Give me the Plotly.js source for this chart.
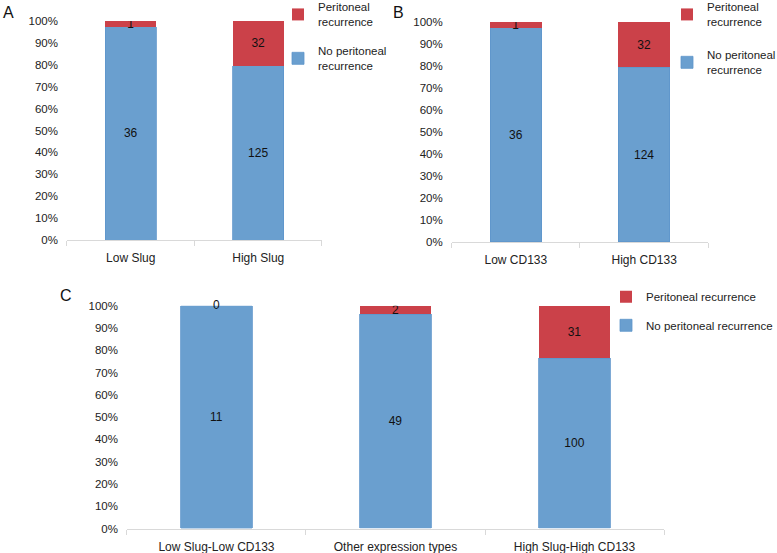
<!DOCTYPE html>
<html>
<head>
<meta charset="utf-8">
<script src="https://cdn.plot.ly/plotly-3.0.1.min.js"></script>
<style>html,body{margin:0;padding:0;background:#fff;}#chart{width:777px;height:553px;}</style>
</head>
<body>
<div id="chart"></div>
<script>
var catsA = ['Low Slug', 'High Slug'];
var noRecA = [36, 125];
var recA = [1, 32];

var catsB = ['Low CD133', 'High CD133'];
var noRecB = [36, 124];
var recB = [1, 32];

var catsC = ['Low Slug-Low CD133', 'Other expression types', 'High Slug-High CD133'];
var noRecC = [11, 49, 100];
var recC = [0, 2, 31];

var nameRec = 'Peritoneal recurrence';
var nameNoRec = 'No peritoneal recurrence';

var BLUE = '#6A9FCF', RED = '#CB4149';
var FONT = 'Liberation Sans, Arial, Helvetica, sans-serif';

function bar(x, y, color, name, xa, ya, leg, rank) {
  return {
    type: 'bar', x: x, y: y, name: name, xaxis: xa, yaxis: ya, legend: leg,
    legendrank: rank, legendgroup: leg + '_' + rank,
    marker: {color: color, line: {color: color === BLUE ? '#5E95CA' : RED, width: color === BLUE ? 0.8 : 0}},
    text: y.map(String), textposition: 'inside', insidetextanchor: 'middle',
    constraintext: 'none', textangle: 0,
    textfont: {family: FONT, size: 12, color: '#111'},
    hoverinfo: 'skip'
  };
}

// labels for zero-height segments (bar text is not drawn for them)
function zeroLabels(cats, noRec, rec, xa, ya) {
  var xs = [], ys = [], ts = [];
  for (var i = 0; i < cats.length; i++) {
    if (rec[i] === 0) {
      var tot = noRec[i] + rec[i];
      xs.push(cats[i]); ys.push((noRec[i] + rec[i] / 2) / tot); ts.push(String(rec[i]));
    }
  }
  return {
    type: 'scatter', mode: 'text', x: xs, y: ys, text: ts, textposition: 'middle center',
    xaxis: xa, yaxis: ya, showlegend: false, hoverinfo: 'skip',
    textfont: {family: FONT, size: 12, color: '#111'}, cliponaxis: false
  };
}

var data = [
  bar(catsA, noRecA, BLUE, 'No peritoneal<br>recurrence', 'x', 'y', 'legend', 2),
  bar(catsA, recA, RED, 'Peritoneal<br>recurrence', 'x', 'y', 'legend', 1),
  bar(catsB, noRecB, BLUE, 'No peritoneal<br>recurrence', 'x2', 'y2', 'legend2', 2),
  bar(catsB, recB, RED, 'Peritoneal<br>recurrence', 'x2', 'y2', 'legend2', 1),
  bar(catsC, noRecC, BLUE, nameNoRec, 'x3', 'y3', 'legend3', 2),
  bar(catsC, recC, RED, nameRec, 'x3', 'y3', 'legend3', 1),
  zeroLabels(catsC, noRecC, recC, 'x3', 'y3')
];

function xax(dom, anchor) {
  return {
    domain: dom, anchor: anchor, type: 'category', showline: true, linecolor: '#D9D9D9', linewidth: 1,
    ticks: 'outside', tickson: 'boundaries', ticklen: 5, tickcolor: '#D9D9D9',
    showgrid: false, zeroline: false, fixedrange: true, automargin: false,
    tickfont: {family: FONT, size: 12, color: '#222'}, ticklabelstandoff: 7
  };
}
function yax(dom, anchor) {
  return {
    domain: dom, anchor: anchor, range: [0, 1], dtick: 0.1, tick0: 0, tickformat: '.0%',
    showline: false, showgrid: false, zeroline: false, ticks: '', fixedrange: true, automargin: false,
    tickfont: {family: FONT, size: 11.5, color: '#222'}, ticklabelstandoff: 8
  };
}
function leg(x, y, gap) {
  return {
    x: x, y: y, xanchor: 'left', yanchor: 'top', traceorder: 'grouped',
    tracegroupgap: gap, bgcolor: 'rgba(0,0,0,0)',
    font: {family: FONT, size: 11.5, color: '#222'}
  };
}

function letter(t, px, py) {
  return {text: t, x: px / 777, y: 1 - py / 553, xref: 'paper', yref: 'paper', xanchor: 'center', yanchor: 'middle',
    showarrow: false, font: {family: FONT, size: 16, color: '#111'}};
}

var layout = {
  width: 777, height: 553,
  margin: {l: 0, r: 0, t: 0, b: 0, autoexpand: false},
  paper_bgcolor: '#fff', plot_bgcolor: '#fff',
  barmode: 'stack', barnorm: 'fraction', bargap: 0.6,
  showlegend: true,
  xaxis: xax([0.0862, 0.4144], 'y'),
  yaxis: yax([0.566, 0.962], 'x'),
  xaxis2: xax([0.5813, 0.9116], 'y2'),
  yaxis2: yax([0.5624, 0.9602], 'x2'),
  xaxis3: xax([0.1634, 0.8546], 'y3'),
  yaxis3: yax([0.0443, 0.4472], 'x3'),
  legend: leg(278 / 777, 1.0127, 11),
  legend2: leg(667 / 777, 1.0127, 15),
  legend3: leg(606 / 777, 0.4895, 9.5),
  annotations: [letter('A', 8.7, 12), letter('B', 398, 12), letter('C', 65.5, 295)]
};

Plotly.newPlot('chart', data, layout, {displayModeBar: false, staticPlot: true});
</script>
</body>
</html>
